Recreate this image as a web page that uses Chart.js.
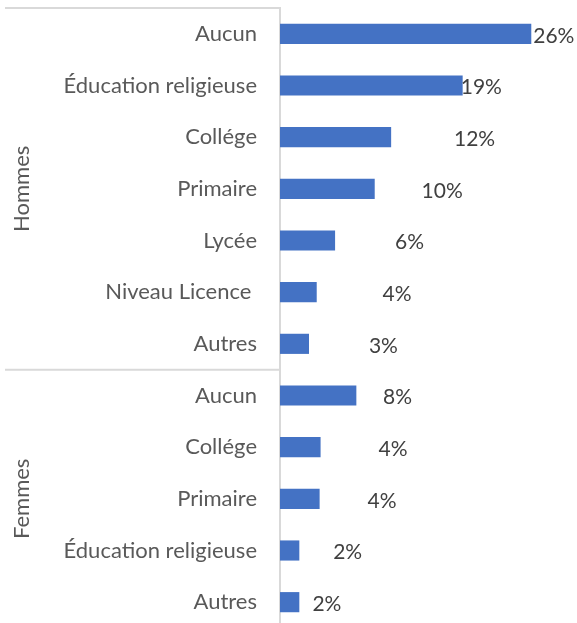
<!DOCTYPE html>
<html>
<head>
<meta charset="utf-8">
<script src="https://cdn.jsdelivr.net/npm/chart.js@4/dist/chart.umd.min.js"></script>
<style>
  html, body { margin: 0; padding: 0; background: #fff; overflow: hidden; }
  #wrap { position: relative; width: 577px; height: 628px; }
</style>
</head>
<body>
<div id="wrap"><canvas id="chart"></canvas></div>
<script>
// categories, top to bottom
const categories = [
    'Aucun', 'Éducation religieuse', 'Collége', 'Primaire', 'Lycée', 'Niveau Licence ', 'Autres',
    'Aucun', 'Collége', 'Primaire', 'Éducation religieuse', 'Autres'
];
const groups = ['Hommes', 'Femmes'];
const groupSizes = [7, 5];
// share in %
const values = [26.0, 18.9, 11.5, 9.8, 5.7, 3.8, 3.0, 7.9, 4.2, 4.1, 2.0, 2.0];
const valueLabels = ['26%', '19%', '12%', '10%', '6%', '4%', '3%', '8%', '4%', '4%', '2%', '2%'];
// where each label starts, in % along the value axis
const labelAt = [26.2, 18.7, 18.0, 14.65, 11.9, 10.6, 9.2, 10.66, 10.2, 9.06, 5.5, 3.35];

const FONT = 'Lato';
const AXIS_GREY = '#d9d9d9';

const groupPlugin = {
    id: 'groups',
    afterDraw(chart) {
        const ctx = chart.ctx;
        const y = chart.scales.y;
        const area = chart.chartArea;
        const step = y.getPixelForValue(1) - y.getPixelForValue(0);
        ctx.save();
        ctx.strokeStyle = AXIS_GREY;
        ctx.lineWidth = 2;
        let start = 0;
        groups.forEach((g, gi) => {
            const top = y.getPixelForValue(start) - step / 2;
            const bottom = y.getPixelForValue(start + groupSizes[gi] - 1) + step / 2;
            ctx.beginPath();
            ctx.moveTo(5, top);
            ctx.lineTo(area.left, top);
            ctx.stroke();
            ctx.save();
            ctx.translate(22, (top + bottom) / 2);
            ctx.rotate(-Math.PI / 2);
            ctx.fillStyle = '#595959';
            ctx.font = '22px ' + FONT;
            ctx.textAlign = 'center';
            ctx.textBaseline = 'middle';
            ctx.fillText(g, 0, 0);
            ctx.restore();
            start += groupSizes[gi];
        });
        ctx.restore();
    }
};

const labelPlugin = {
    id: 'valueLabels',
    afterDatasetsDraw(chart) {
        const ctx = chart.ctx;
        const x = chart.scales.x;
        const y = chart.scales.y;
        ctx.save();
        ctx.fillStyle = '#404040';
        ctx.font = '21px ' + FONT;
        ctx.textAlign = 'left';
        ctx.textBaseline = 'middle';
        valueLabels.forEach((t, i) => {
            ctx.fillText(t, x.getPixelForValue(labelAt[i]), y.getPixelForValue(i) + 2);
        });
        ctx.restore();
    }
};

new Chart(document.getElementById('chart'), {
    type: 'bar',
    data: {
        labels: categories,
        datasets: [{
            data: values,
            backgroundColor: '#4472c4',
            borderWidth: 0,
            categoryPercentage: 1,
            barPercentage: 0.39
        }]
    },
    options: {
        indexAxis: 'y',
        responsive: true,
        maintainAspectRatio: false,
        animation: false,
        layout: { padding: { top: 8, left: 0, right: 0, bottom: 0 } },
        plugins: { legend: { display: false }, tooltip: { enabled: false } },
        scales: {
            x: { display: false, min: 0, max: 30.73 },
            y: {
                grid: { display: false, drawTicks: false },
                border: { display: true, color: AXIS_GREY, width: 2 },
                ticks: { color: '#595959', font: { family: FONT, size: 22 }, padding: 23, autoSkip: false },
                afterFit(scale) {
                    scale.width = 280;
                    scale.paddingTop = 0;
                    scale.paddingBottom = 0;
                }
            }
        }
    },
    plugins: [groupPlugin, labelPlugin]
});
</script>
</body>
</html>
